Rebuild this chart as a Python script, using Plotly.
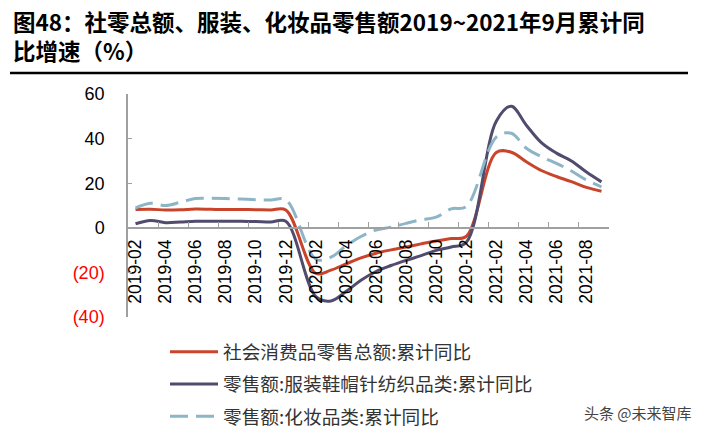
import plotly.graph_objects as go

months = (["2019-%02d" % m for m in range(2, 13)] +
          ["2020-%02d" % m for m in range(1, 13)] +
          ["2021-%02d" % m for m in range(1, 10)])

# None = no separate January figure (Jan-Feb combined)
retail_total = [8.2, 8.3, 8.0, 8.1, 8.4, 8.3, 8.2, 8.2, 8.1, 8.0, 8.0,
                None, -20.5, -19.0, -16.2, -13.5, -11.4, -9.9, -8.6, -7.2, -5.9, -4.8, -3.9,
                None, 33.8, 33.9, 29.6, 25.7, 23.0, 20.7, 18.1, 16.4]
apparel = [1.8, 3.3, 2.3, 2.6, 2.9, 2.9, 2.9, 2.9, 2.8, 2.6, 2.9,
           None, -30.9, -32.8, -28.6, -23.5, -19.6, -16.9, -14.6, -12.5, -10.1, -8.6, -6.6,
           None, 47.8, 54.5, 46.0, 38.2, 33.5, 30.0, 25.0, 20.6]
cosmetics = [8.9, 11.0, 10.0, 11.5, 13.1, 13.2, 13.1, 12.9, 12.6, 12.5, 12.6,
             None, -14.1, -13.2, -8.1, -3.9, -1.0, 0.3, 2.0, 3.6, 4.8, 8.5, 9.5,
             None, 40.7, 42.4, 35.7, 31.9, 28.9, 25.5, 21.4, 18.4]

series_names = ["社会消费品零售总额:累计同比",
                "零售额:服装鞋帽针纺织品类:累计同比",
                "零售额:化妆品类:累计同比"]

y_tickvals = [60, 40, 20, 0, -20, -40]
y_ticktext = ["60", "40", "20", "0",
              "<span style='color:#FF0000'>(20)</span>",
              "<span style='color:#FF0000'>(40)</span>"]

title_lines = ["图48：社零总额、服装、化妆品零售额2019~2021年9月累计同", "比增速（%）"]
watermark = "头条 @未来智库"

W, H = 702, 432
L, R, T, B = 128, 93, 94, 115
PW, PH = W - L - R, H - T - B


def px(x):
    return (x - L) / PW


def py(y):
    return (H - B - y) / PH


fig = go.Figure()
fig.add_trace(go.Scatter(x=months, y=retail_total, name=series_names[0], mode="lines",
                         connectgaps=True, legendgroup="a",
                         line=dict(color="#C9442B", width=3, shape="spline", smoothing=1.0)))
fig.add_trace(go.Scatter(x=months, y=apparel, name=series_names[1], mode="lines",
                         connectgaps=True, legendgroup="b",
                         line=dict(color="#514B6E", width=3, shape="spline", smoothing=1.0)))
fig.add_trace(go.Scatter(x=months, y=cosmetics, name=series_names[2], mode="lines",
                         connectgaps=True, legendgroup="c",
                         line=dict(color="#8DB5C8", width=3, shape="spline", smoothing=1.0,
                                   dash="18px,8px")))

fig.update_layout(
    width=W, height=H,
    margin=dict(l=L, r=R, t=T, b=B, autoexpand=False),
    paper_bgcolor="white", plot_bgcolor="white",
    font=dict(family="Liberation Sans, Arial, Noto Sans CJK SC", color="#000000"),
    showlegend=True,
    legend=dict(x=px(165), y=py(333), xanchor="left", yanchor="top",
                font=dict(family="Noto Sans CJK SC", size=18.7, color="#333333"),
                bgcolor="rgba(0,0,0,0)", tracegroupgap=5, itemwidth=48),
    xaxis=dict(type="category", categoryorder="array", categoryarray=months,
               range=[-0.5, len(months) - 0.5],
               tickmode="linear", tick0=0, dtick=2, tickson="boundaries",
               ticks="inside", ticklen=5, tickcolor="#A0A0A0",
               tickangle=-90, tickfont=dict(size=17.5, color="#000000"),
               ticklabelstandoff=4,
               showline=True, linecolor="#A0A0A0", linewidth=1.5,
               showgrid=False, zeroline=False,
               anchor="free", position=0.4, automargin=False),
    yaxis=dict(range=[-40, 60], tickmode="array", tickvals=y_tickvals, ticktext=y_ticktext,
               ticks="inside", ticklen=4, tickcolor="#A0A0A0",
               tickfont=dict(size=18, color="#000000"), ticklabelstandoff=18,
               showline=True, linecolor="#A0A0A0", linewidth=1.5,
               showgrid=False, zeroline=False, automargin=False),
)

fig.add_annotation(text="<b>" + "<br>".join(title_lines) + "</b>", xref="paper", yref="paper",
                   x=px(11), y=py(36), xanchor="left", yanchor="middle", align="left",
                   showarrow=False,
                   font=dict(family="Noto Sans CJK SC", size=22.5, color="#000000"))
fig.add_shape(type="line", xref="paper", yref="paper",
              x0=px(10), x1=px(688), y0=py(73), y1=py(73),
              line=dict(color="#000000", width=2.5))
fig.add_annotation(text=watermark, xref="paper", yref="paper",
                   x=px(694), y=py(412), xanchor="right", yanchor="middle", showarrow=False,
                   font=dict(family="Noto Sans CJK SC", size=15, color="#444444"))

fig.write_html("out.html", config={"displayModeBar": False},
               post_script="document.body.style.margin='0px';")
